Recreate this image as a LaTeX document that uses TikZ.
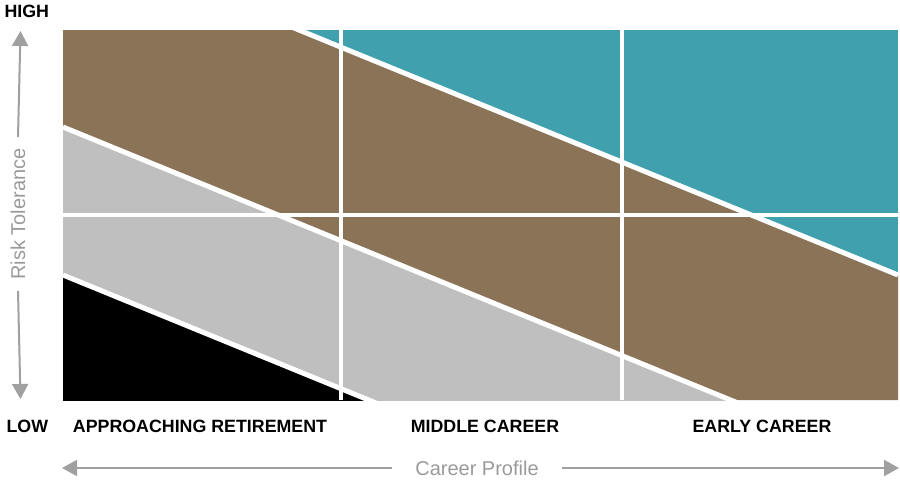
\documentclass[tikz,border=0pt]{standalone}
\usepackage{fontspec}
\setmainfont{Liberation Sans}
\usetikzlibrary{arrows.meta}
\definecolor{teal1}{HTML}{40A0AE}
\definecolor{brown1}{HTML}{8A7357}
\definecolor{gray1}{HTML}{BFBFBF}
\definecolor{axisgray}{HTML}{A0A0A0}
\definecolor{textgray}{HTML}{9A9A9A}
\begin{document}
\begin{tikzpicture}[x=1pt,y=-1pt,
  sep/.style={white,line width=5pt},
  grid/.style={white,line width=4pt},
  catlabel/.style={font=\fontsize{17.8}{19}\selectfont\bfseries,anchor=base},
  axislabel/.style={font=\fontsize{20}{22}\selectfont,text=textgray,inner xsep=20pt,inner ysep=0pt},
  axisline/.style={axisgray,line width=2pt},
  tip/.style={-{Triangle[length=15pt,width=16pt]}}]
\useasboundingbox (0,0) rectangle (900,482);
% bands
\begin{scope}
\clip (63,30) rectangle (898,400);
\fill[teal1] (63,30) rectangle (898,400);
\fill[brown1] (63,-66.5) -- (898,275) -- (898,400) -- (63,400) -- cycle;
\fill[gray1] (63,127) -- (898,468.5) -- (898,500) -- (63,500) -- cycle;
\fill[black] (63,275) -- (898,616.5) -- (898,700) -- (63,700) -- cycle;
\draw[sep] (63,-66.5) -- (898,275);
\draw[sep] (63,127) -- (898,468.5);
\draw[sep] (63,275) -- (898,616.5);
\draw[grid] (341,30) -- (341,400);
\draw[grid] (622,30) -- (622,400);
\draw[grid] (63,215) -- (898,215);
\end{scope}
% labels
\node[catlabel,anchor=base west] (high) at (1,17) {HIGH};
\node[catlabel,anchor=base west] (low) at (3,432) {LOW};
\node[catlabel] (ar) at (200,432) {APPROACHING RETIREMENT};
\node[catlabel] (mc) at (485,432) {MIDDLE CAREER};
\node[catlabel] (ec) at (762,432) {EARLY CAREER};
% y axis
\coordinate (ytop) at (20.5,31);
\coordinate (ybot) at (20.5,399);
\node[axislabel,rotate=90,inner xsep=11pt] (risk) at (18,214) {Risk Tolerance};
\draw[axisline,tip] (risk.east) -- (ytop);
\draw[axisline,tip] (risk.west) -- (ybot);
% x axis
\coordinate (xleft) at (62,468);
\coordinate (xright) at (899,468);
\node[axislabel,inner xsep=23pt] (career) at (477,468) {Career Profile};
\draw[axisline,tip] (career.west) -- (xleft);
\draw[axisline,tip] (career.east) -- (xright);
\end{tikzpicture}
\end{document}
